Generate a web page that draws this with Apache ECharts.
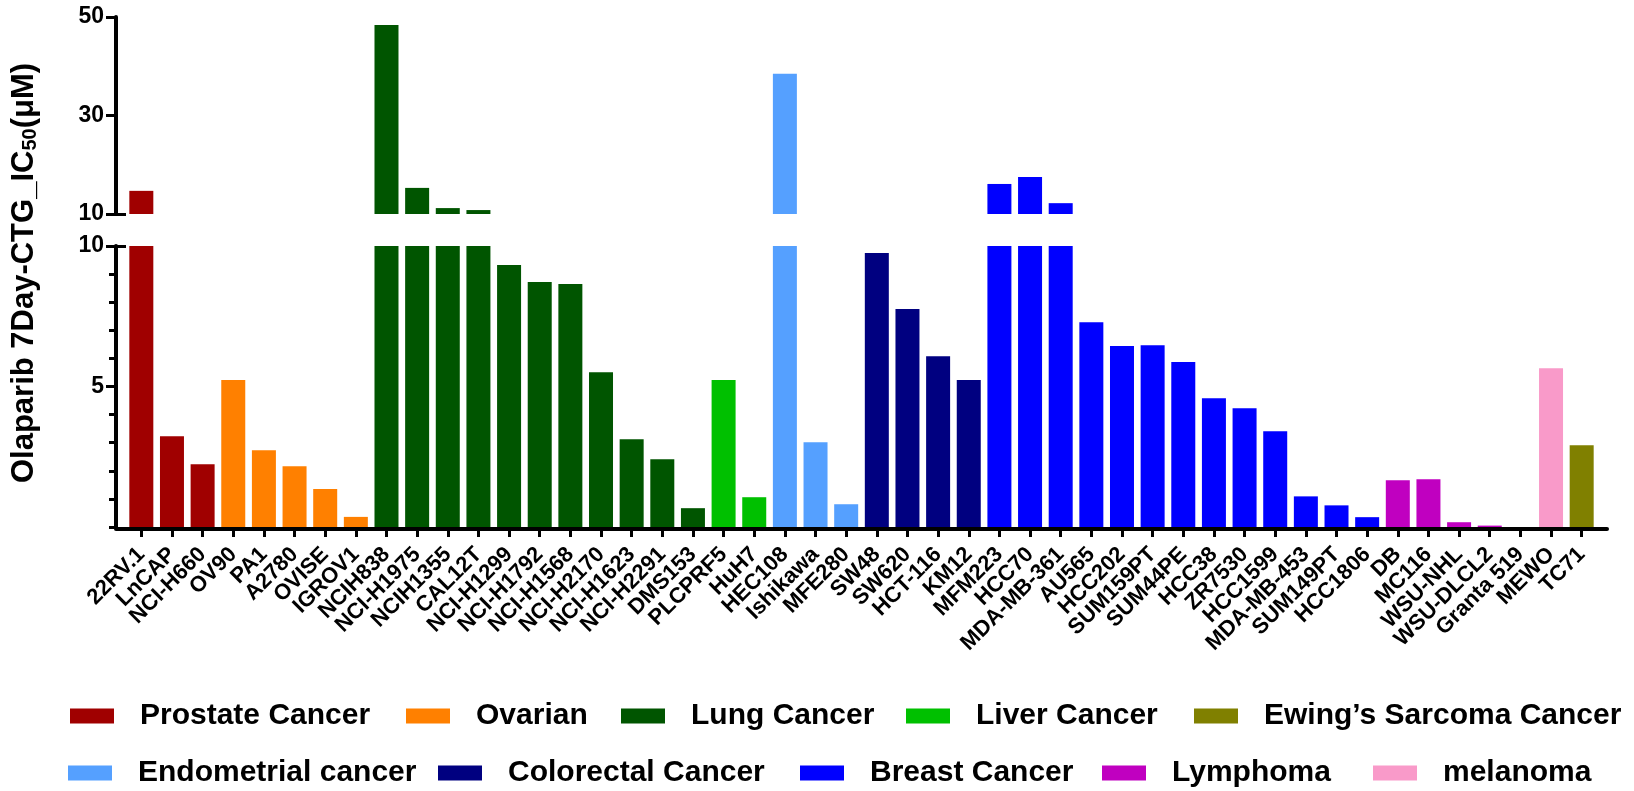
<!DOCTYPE html>
<html>
<head>
<meta charset="utf-8">
<script src="https://cdn.jsdelivr.net/npm/echarts@6/dist/echarts.min.js"></script>
<style>
html,body{margin:0;padding:0;background:#fff;}
#chart{width:1634px;height:791px;}
</style>
</head>
<body>
<div id="chart"></div>
<script>
// ---- data ----
const categories = ['22RV.1','LnCAP','NCI-H660','OV90','PA1','A2780','OVISE','IGROV1',
  'NCIH838','NCI-H1975','NCIH1355','CAL12T','NCI-H1299','NCI-H1792','NCI-H1568','NCI-H2170','NCI-H1623','NCI-H2291','DMS153',
  'PLCPRF5','HuH7','HEC108','Ishikawa','MFE280','SW48','SW620','HCT-116','KM12',
  'MFM223','HCC70','MDA-MB-361','AU565','HCC202','SUM159PT','SUM44PE','HCC38','ZR7530','HCC1599','MDA-MB-453','SUM149PT','HCC1806',
  'DB','MC116','WSU-NHL','WSU-DLCL2','Granta 519','MEWO','TC71'];
const ic50Values = [14.7,3.23,2.23,5.23,2.73,2.16,1.35,0.36,
  48.4,15.3,11.2,10.8,9.32,8.72,8.65,5.51,3.12,2.41,0.67,
  5.23,1.06,38.5,3.02,0.81,9.75,7.76,6.08,5.23,
  16.1,17.5,12.2,7.29,6.44,6.47,5.87,4.58,4.23,3.41,1.09,0.77,0.35,
  1.66,1.70,0.17,0.05,0,5.65,2.91];
const cancerTypes = ['Prostate Cancer','Ovarian','Lung Cancer','Liver Cancer','Ewing\u2019s Sarcoma Cancer',
  'Endometrial cancer','Colorectal Cancer','Breast Cancer','Lymphoma','melanoma'];
const typeColors = ['#A00000','#FF8000','#005500','#00C000','#808000',
  '#55A0FF','#000080','#0000FF','#C000C0','#F99AC9'];
const categoryType = [0,0,0,1,1,1,1,1,
  2,2,2,2,2,2,2,2,2,2,2,
  3,3,5,5,5,6,6,6,6,
  7,7,7,7,7,7,7,7,7,7,7,7,7,
  8,8,8,8,8,9,4];
const upperTicks = [10,30,50];
const lowerTicks = [5,10];

// ---- layout ----
const FONT = '"Liberation Sans", Arial, sans-serif';
const gridLeft = 126, gridWidth = 1471;
const upper = {top:17, height:197};
const lower = {top:246, height:281};

const grids = [
  {left:gridLeft, width:gridWidth, top:upper.top, height:upper.height},   // 0 upper bars
  {left:gridLeft, width:gridWidth, top:lower.top, height:lower.height},   // 1 lower bars
  {left:gridLeft, width:gridWidth, top:lower.top, height:lower.height},   // 2 lower major ticks
  {left:gridLeft, width:gridWidth, top:lower.top, height:lower.height},   // 3 lower break mark
  {left:gridLeft, width:gridWidth, top:upper.top, height:upper.height},   // 4 upper break mark
  {left:116, width:1491, top:248, height:281}                             // 5 x axis line
];

const blackLine = {color:'#000', width:4};
const tickStyle = {color:'#000', width:3};
const yLabel = {color:'#000', fontSize:23, fontWeight:'bold', fontFamily:FONT, margin:12};

const xAxes = [
  {gridIndex:0, type:'category', data:categories, show:false},
  {gridIndex:1, type:'category', data:categories,
    axisLine:{show:false},
    axisTick:{show:true, alignWithLabel:true, length:10, lineStyle:tickStyle},
    axisLabel:{interval:0, rotate:45, color:'#000', fontSize:22, fontWeight:'bold', fontFamily:FONT, margin:24}},
  {gridIndex:2, type:'category', data:categories, show:false},
  {gridIndex:3, type:'category', data:categories, show:false},
  {gridIndex:4, type:'category', data:categories, show:false},
  {gridIndex:5, type:'value', min:0, max:1,
    axisLine:{show:true, onZero:false, lineStyle:blackLine}, axisTick:{show:false}, axisLabel:{show:false}, splitLine:{show:false}}
];

const yAxes = [
  {gridIndex:0, type:'value', min:10, max:50, offset:10,
    axisLine:{show:true, onZero:false, lineStyle:blackLine},
    axisTick:{show:true, length:10, lineStyle:tickStyle, customValues:upperTicks},
    axisLabel:Object.assign({customValues:upperTicks}, yLabel),
    splitLine:{show:false}},
  {gridIndex:1, type:'value', min:0, max:10, interval:1, offset:10,
    axisLine:{show:true, onZero:false, lineStyle:blackLine},
    axisTick:{show:true, length:7, lineStyle:tickStyle},
    axisLabel:Object.assign({customValues:lowerTicks}, yLabel),
    splitLine:{show:false}},
  {gridIndex:2, type:'value', min:0, max:10, offset:10,
    axisLine:{show:false, onZero:false},
    axisTick:{show:true, length:10, lineStyle:tickStyle, customValues:lowerTicks},
    axisLabel:{show:false}, splitLine:{show:false}},
  {gridIndex:3, type:'value', min:0, max:10, offset:10,
    axisLine:{show:false, onZero:false},
    axisTick:{show:true, inside:true, length:10, lineStyle:tickStyle, customValues:[10]},
    axisLabel:{show:false}, splitLine:{show:false}},
  {gridIndex:4, type:'value', min:10, max:50, offset:10,
    axisLine:{show:false, onZero:false},
    axisTick:{show:true, inside:true, length:10, lineStyle:tickStyle, customValues:[10]},
    axisLabel:{show:false}, splitLine:{show:false}},
  {gridIndex:5, type:'value', show:false, axisLine:{onZero:false}}
];

// ---- series: one per cancer type, in both panels ----
const series = [];
[0,1].forEach(function(g){
  cancerTypes.forEach(function(name, t){
    series.push({
      name:name, type:'bar', xAxisIndex:g, yAxisIndex:g,
      barWidth:24, barGap:'-100%', clip:true,
      itemStyle:{color:typeColors[t]},
      data: ic50Values.map(function(v,i){ return categoryType[i]===t ? v : '-'; })
    });
  });
});

// ---- legends (two rows) ----
const legendPos = [
  [70,701],[406,701],[621,701],[906,701],[1194,701],
  [68,758],[438,758],[800,758],[1102,758],[1373,758]
];
const legends = cancerTypes.map(function(name, t){
  return {
    data:[name], left:legendPos[t][0], top:legendPos[t][1], padding:0,
    icon:'rect', itemWidth:44, itemHeight:15, selectedMode:false,
    textStyle:{color:'#000', fontSize:30, fontWeight:'bold', fontFamily:FONT, lineHeight:30, padding:[0,0,0,21]}
  };
});

const chart = echarts.init(document.getElementById('chart'));
chart.setOption({
  animation:false,
  backgroundColor:'#fff',
  grid:grids,
  xAxis:xAxes,
  yAxis:yAxes,
  legend:legends,
  series:series,
  graphic:[{
    type:'text', x:24, y:273, rotation:Math.PI/2,
    style:{
      text:'{a|Olaparib 7Day-CTG_IC}{b|50}{a|(\u03bcM)}',
      align:'center', verticalAlign:'middle',
      rich:{
        a:{fontSize:31, fontWeight:'bold', fontFamily:FONT, fill:'#000', lineHeight:32},
        b:{fontSize:20, fontWeight:'bold', fontFamily:FONT, fill:'#000', verticalAlign:'bottom', lineHeight:32, padding:[9,0,0,0]}
      }
    }
  }]
});
</script>
</body>
</html>
